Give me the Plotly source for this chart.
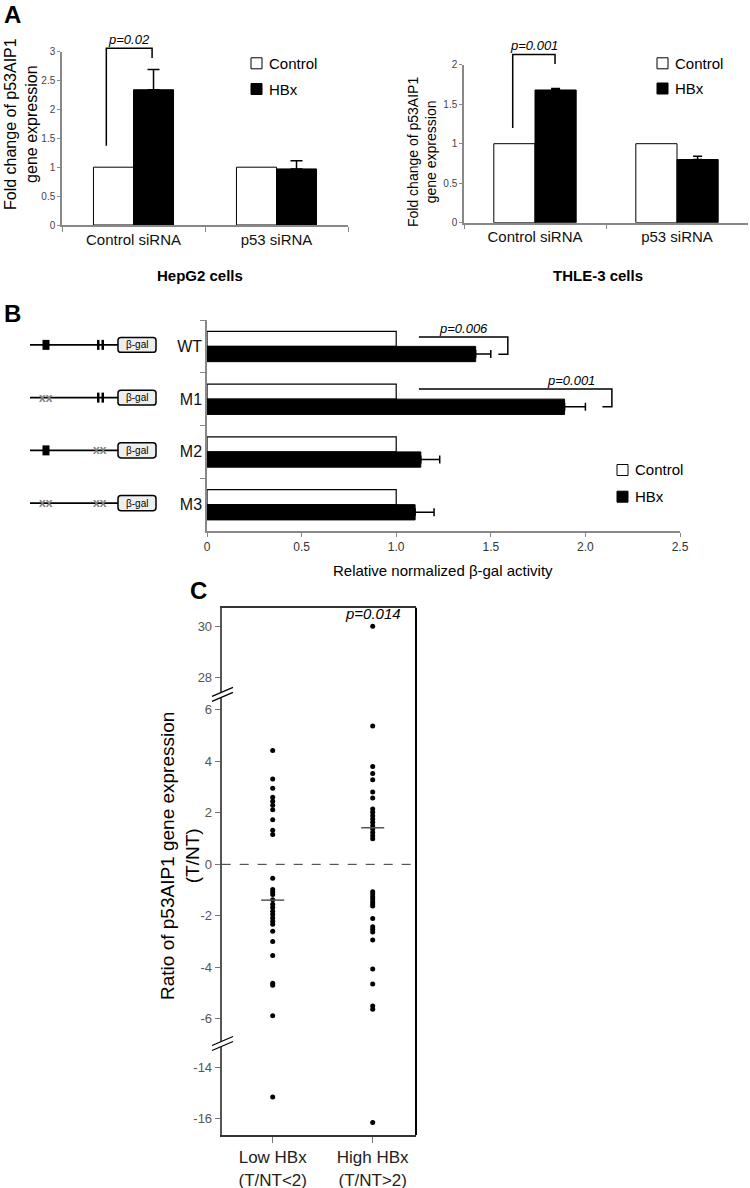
import plotly.graph_objects as go

# ---------------- data ----------------
a_categories = ["Control siRNA", "p53 siRNA"]
hepg2_control = [1.0, 1.0]
hepg2_hbx = [2.34, 0.97]
hepg2_hbx_err = [0.35, 0.14]
thle3_control = [1.0, 1.0]
thle3_hbx = [1.68, 0.80]
thle3_hbx_err = [0.02, 0.04]
hepg2_yticks = [0, 0.5, 1, 1.5, 2, 2.5, 3]
thle3_yticks = [0, 0.5, 1, 1.5, 2]

b_constructs = ["WT", "M1", "M2", "M3"]
b_control = [1.0, 1.0, 1.0, 1.0]
b_hbx = [1.42, 1.89, 1.13, 1.10]
b_hbx_err = [0.08, 0.11, 0.10, 0.10]
b_site1_intact = [True, False, True, False]
b_site2_intact = [True, True, False, False]
b_xticks = [0, 0.5, 1.0, 1.5, 2.0, 2.5]
b_xticklabels = ["0", "0.5", "1.0", "1.5", "2.0", "2.5"]

c_groups = ["Low HBx<br>(T/NT<2)", "High HBx<br>(T/NT>2)"]
c_low = [4.42, 3.31, 2.95, 2.60, 2.45, 2.29, 2.12, 1.73, 1.32, 1.16,
         -0.98, -1.07, -1.17, -1.38, -1.55, -1.68, -1.82, -1.95, -2.08, -2.21,
         -2.33, -2.60, -3.00, -3.54, -4.62, -4.70, -5.88, -6.66, -15.16]
c_high = [30.0, 5.37, 3.80, 3.53, 3.28, 2.81, 2.58, 2.15, 2.02, 1.89, 1.76,
          1.63, 1.50, 1.37, 1.24, 1.11, 0.99,
          -1.06, -1.15, -1.26, -1.35, -1.45, -1.54, -1.62, -2.10, -2.42, -2.52,
          -2.63, -2.94, -4.06, -4.65, -5.50, -5.63, -16.15]
c_low_mean = -1.39
c_high_mean = 1.42
c_yticks = [30, 28, 6, 4, 2, 0, -2, -4, -6, -14, -16]

# ---------------- geometry ----------------
W, H = 750, 1188
FONT = "Liberation Sans, Arial, sans-serif"


def fx(p):
    return p / W


def fy(p):
    return 1 - p / H


A1 = dict(x=(62, 348), y=(225, 51.6), r=(0, 3))
A2 = dict(x=(464, 748), y=(222.7, 64.7), r=(0, 2))
BB = dict(x=(207, 680), y=(531, 320), r=(0, 2.5), n=4)
CC = dict(x=(221.7, 416), y=(1135, 607.7), r=(-10.51, 9.965), xr=(-0.51, 1.433))


def ypx(ax, v):
    (p0, p1), (r0, r1) = ax["y"], ax["r"]
    return p0 + (v - r0) / (r1 - r0) * (p1 - p0)


def catx_px(ax, idx, n=2):
    x0, x1 = ax["x"]
    return x0 + (idx + 0.5) / n * (x1 - x0)


def bx_px(v):
    x0, x1 = BB["x"]
    return x0 + (v - BB["r"][0]) / (BB["r"][1] - BB["r"][0]) * (x1 - x0)


def by_px(idx):
    y0, y1 = BB["y"]  # y0 bottom, y1 top
    return y1 + (idx + 0.5) / BB["n"] * (y0 - y1)


# broken axis transform for panel C
def brk(v):
    if v > 6:
        return v - 28 + 7.24
    if v < -6:
        return v + 14 - 7.876
    return v


def cy_px(v):
    (p0, p1), (r0, r1) = CC["y"], CC["r"]
    return p0 + (brk(v) - r0) / (r1 - r0) * (p1 - p0)


def cx_px(v):
    (p0, p1), (r0, r1) = CC["x"], CC["xr"]
    return p0 + (v - r0) / (r1 - r0) * (p1 - p0)


fig = go.Figure()

# ---------------- Panel A ----------------
for (ctrl, hbx, err, xa, ya, capw, w) in [
    (hepg2_control, hepg2_hbx, hepg2_hbx_err, "x", "y", 6, 0.28),
    (thle3_control, thle3_hbx, thle3_hbx_err, "x2", "y2", 4.5, 0.29),
]:
    fig.add_trace(go.Bar(x=a_categories, y=ctrl, xaxis=xa, yaxis=ya, width=w, offset=-w,
                         marker=dict(color="white", line=dict(color="black", width=1)),
                         showlegend=False, name="Control"))
    fig.add_trace(go.Bar(x=a_categories, y=hbx, xaxis=xa, yaxis=ya, width=w, offset=0,
                         marker=dict(color="black", line=dict(color="black", width=1)),
                         error_y=dict(type="data", array=err, arrayminus=[0] * len(err),
                                      symmetric=False, color="black", thickness=1.5, width=capw),
                         showlegend=False, name="HBx"))

# ---------------- Panel B ----------------
fig.add_trace(go.Bar(y=b_constructs, x=b_control, orientation="h", xaxis="x3", yaxis="y3",
                     width=0.285, offset=-0.285,
                     marker=dict(color="white", line=dict(color="black", width=1.2)),
                     showlegend=False, name="Control"))
fig.add_trace(go.Bar(y=b_constructs, x=b_hbx, orientation="h", xaxis="x3", yaxis="y3",
                     width=0.29, offset=0,
                     marker=dict(color="black", line=dict(color="black", width=1)),
                     error_x=dict(type="data", array=b_hbx_err, arrayminus=[0] * 4,
                                  symmetric=False, color="black", thickness=1.5, width=4),
                     showlegend=False, name="HBx"))

# ---------------- Panel C ----------------
fig.add_trace(go.Scatter(x=[0] * len(c_low), y=[brk(v) for v in c_low], mode="markers",
                         xaxis="x4", yaxis="y4", marker=dict(size=5, color="black"),
                         showlegend=False, cliponaxis=False))
fig.add_trace(go.Scatter(x=[1] * len(c_high), y=[brk(v) for v in c_high], mode="markers",
                         xaxis="x4", yaxis="y4", marker=dict(size=5, color="black"),
                         showlegend=False, cliponaxis=False))
for i, m in enumerate([c_low_mean, c_high_mean]):
    fig.add_trace(go.Scatter(x=[i - 0.115, i + 0.115], y=[m, m], mode="lines",
                             xaxis="x4", yaxis="y4", line=dict(color="#555", width=1.5),
                             showlegend=False))

shapes = []
ann = []


def line_px(x0, y0, x1, y1, color="black", width=1.5, dash=None):
    d = dict(type="line", xref="paper", yref="paper", x0=fx(x0), y0=fy(y0), x1=fx(x1), y1=fy(y1),
             line=dict(color=color, width=width), layer="above")
    if dash:
        d["line"]["dash"] = dash
    shapes.append(d)


def path_px(points, close=False, fill=None, color="black", width=1.5):
    s = "M " + " L ".join(f"{fx(x):.5f},{fy(y):.5f}" for x, y in points)
    if close:
        s += " Z"
    d = dict(type="path", xref="paper", yref="paper", path=s, layer="above",
             line=dict(color=color, width=width))
    if fill:
        d["fillcolor"] = fill
    shapes.append(d)


def text_px(x, y, t, size=13, color="black", xanchor="center", yanchor="middle", angle=0, bold=False):
    if bold:
        t = "<b>" + t + "</b>"
    ann.append(dict(x=fx(x), y=fy(y), xref="paper", yref="paper", text=t, showarrow=False,
                    font=dict(size=size, color=color, family=FONT), xanchor=xanchor,
                    yanchor=yanchor, textangle=angle))


def legend_px(x, yc, yh, size=15):
    sq = 11
    shapes.append(dict(type="rect", xref="paper", yref="paper", x0=fx(x), x1=fx(x + sq),
                       y0=fy(yc + sq / 2), y1=fy(yc - sq / 2), fillcolor="white",
                       line=dict(color="black", width=1), layer="above"))
    shapes.append(dict(type="rect", xref="paper", yref="paper", x0=fx(x), x1=fx(x + sq),
                       y0=fy(yh + sq / 2), y1=fy(yh - sq / 2), fillcolor="black",
                       line=dict(color="black", width=1), layer="above"))
    text_px(x + sq + 5, yc, "Control", size=size, xanchor="left")
    text_px(x + sq + 5, yh, "HBx", size=size, xanchor="left")


# Panel A significance brackets
for ax, (li, ri), (ylow, ytop, yr), label in [
    (A1, (-0.19, 0.13), (1.37, 3.06, 2.89), "p=0.02"),
    (A2, (-0.157, 0.141), (1.20, 2.13, 2.01), "p=0.001"),
]:
    xl = catx_px(ax, li)
    xr = catx_px(ax, ri)
    path_px([(xl, ypx(ax, ylow)), (xl, ypx(ax, ytop)), (xr, ypx(ax, ytop)), (xr, ypx(ax, yr))])
    text_px((xl + xr) / 2, ypx(ax, ytop) + 1, "<i>" + label + "</i>", size=13, yanchor="bottom")

legend_px(251, 63.3, 89)
legend_px(657, 63.3, 88.5)

# panel A y titles and cell labels
text_px(21, 124, "Fold change of p53AIP1<br>gene expression", size=16, angle=-90)
text_px(422, 152, "Fold change of p53AIP1<br>gene expression", size=14, angle=-90)
text_px(200, 275, "HepG2 cells", size=15, bold=True)
text_px(598, 275, "THLE-3 cells", size=15, bold=True)
text_px(12, 14, "A", size=24, bold=True)

# ---------------- Panel B decorations ----------------
text_px(12, 314, "B", size=24, bold=True)
for i, (lo, hi, xlft, xend, xtxt, label) in enumerate([
    (-0.176, 0.15, 1.12, 1.59, 1.358, "p=0.006"),
    (-0.19, 0.144, 1.12, 2.14, 1.924, "p=0.001"),
]):
    yc = by_px(i)
    step = (BB["y"][0] - BB["y"][1]) / BB["n"]
    ytop = yc + lo * step
    ybot = yc + hi * step
    path_px([(bx_px(xlft), ytop), (bx_px(xend), ytop), (bx_px(xend), ybot), (bx_px(xend - 0.05), ybot)])
    text_px(bx_px(xtxt), ytop + 1, "<i>" + label + "</i>", size=13, yanchor="bottom")

legend_px(617, 470, 496.7)
text_px(443, 570, "Relative normalized β-gal activity", size=15)

# construct schematics
for i, (s1, s2) in enumerate(zip(b_site1_intact, b_site2_intact)):
    yc = by_px(i) - 1.5
    line_px(30, yc, 118, yc, width=1.8)
    if s1:
        shapes.append(dict(type="rect", xref="paper", yref="paper", x0=fx(42.5), x1=fx(49.5),
                           y0=fy(yc + 5), y1=fy(yc - 5), fillcolor="black",
                           line=dict(color="black", width=0), layer="above"))
    else:
        text_px(46, yc, "<b>xx</b>", size=12, color="#808080")
    if s2:
        for xb in (97, 101.5):
            shapes.append(dict(type="rect", xref="paper", yref="paper", x0=fx(xb), x1=fx(xb + 2.5),
                               y0=fy(yc + 5), y1=fy(yc - 5), fillcolor="black",
                               line=dict(color="black", width=0), layer="above"))
    else:
        text_px(100, yc, "<b>xx</b>", size=12, color="#808080")
    # rounded beta-gal box
    x0, x1, y0, y1, r = 118, 156, yc - 7.5, yc + 7.5, 3
    pts = (f"M {fx(x0 + r):.5f},{fy(y0):.5f} L {fx(x1 - r):.5f},{fy(y0):.5f} "
           f"Q {fx(x1):.5f},{fy(y0):.5f} {fx(x1):.5f},{fy(y0 + r):.5f} "
           f"L {fx(x1):.5f},{fy(y1 - r):.5f} Q {fx(x1):.5f},{fy(y1):.5f} {fx(x1 - r):.5f},{fy(y1):.5f} "
           f"L {fx(x0 + r):.5f},{fy(y1):.5f} Q {fx(x0):.5f},{fy(y1):.5f} {fx(x0):.5f},{fy(y1 - r):.5f} "
           f"L {fx(x0):.5f},{fy(y0 + r):.5f} Q {fx(x0):.5f},{fy(y0):.5f} {fx(x0 + r):.5f},{fy(y0):.5f} Z")
    shapes.append(dict(type="path", xref="paper", yref="paper", path=pts, fillcolor="#eeeeee",
                       line=dict(color="black", width=1.5), layer="above"))
    text_px(137, yc, "β-gal", size=10)

# ---------------- Panel C decorations ----------------
text_px(199, 590, "C", size=24, bold=True)
line_px(CC["x"][0], cy_px(0), CC["x"][1], cy_px(0), color="#333", width=1, dash="dash")
line_px(CC["x"][1], CC["y"][1], CC["x"][1], CC["y"][0], color="black", width=2)
for a, b in [(6, 28), (-6, -14)]:
    c = (cy_px(a) + cy_px(b)) / 2
    path_px([(212, c + 2.5), (233, c - 6.5), (233, c - 1.5), (212, c + 7.5)], close=True,
            fill="white", color="white", width=0.5)
    line_px(212, c + 2.5, 233, c - 6.5, width=1.3)
    line_px(212, c + 7.5, 233, c - 1.5, width=1.3)
text_px(cx_px(1), cy_px(30) - 2, "<i>p=0.014</i>", size=15, yanchor="bottom")
text_px(180, 856, "Ratio of p53AIP1 gene expression<br>(T/NT)", size=19, angle=-90)

axis_common = dict(showgrid=False, zeroline=False, showline=True, ticks="outside")

fig.update_layout(
    width=W, height=H, margin=dict(l=0, r=0, t=0, b=0),
    paper_bgcolor="white", plot_bgcolor="white", template="none",
    font=dict(family=FONT, color="black"),
    barmode="overlay", showlegend=False,
    xaxis=dict(domain=[fx(A1["x"][0]), fx(A1["x"][1])], anchor="y", type="category",
               categoryorder="array", categoryarray=a_categories, range=[-0.5, 1.5],
               tickson="boundaries", ticklen=5, tickcolor="#888", linecolor="#888", linewidth=1.5,
               tickfont=dict(size=15, color="#111"), **axis_common),
    yaxis=dict(domain=[fy(A1["y"][0]), fy(A1["y"][1])], anchor="x", range=list(A1["r"]),
               tickvals=hepg2_yticks, ticktext=[f"{v:g}" for v in hepg2_yticks], ticklen=3,
               tickcolor="#888", linecolor="#888", linewidth=1.5,
               tickfont=dict(size=10, color="#444"), **axis_common),
    xaxis2=dict(domain=[fx(A2["x"][0]), fx(A2["x"][1])], anchor="y2", type="category",
                categoryorder="array", categoryarray=a_categories, range=[-0.5, 1.5],
                tickson="boundaries", ticklen=5, tickcolor="#888", linecolor="#888", linewidth=1.5,
                tickfont=dict(size=15, color="#111"), **axis_common),
    yaxis2=dict(domain=[fy(A2["y"][0]), fy(A2["y"][1])], anchor="x2", range=list(A2["r"]),
                tickvals=thle3_yticks, ticktext=[f"{v:g}" for v in thle3_yticks], ticklen=3,
                tickcolor="#888", linecolor="#888", linewidth=1.5,
                tickfont=dict(size=10, color="#444"), **axis_common),
    xaxis3=dict(domain=[fx(BB["x"][0]), fx(BB["x"][1])], anchor="y3", range=list(BB["r"]),
                tickvals=b_xticks, ticktext=b_xticklabels, ticklen=4, tickcolor="#888",
                linecolor="#888", linewidth=1.5, tickfont=dict(size=12, color="#333"), **axis_common),
    yaxis3=dict(domain=[fy(BB["y"][0]), fy(BB["y"][1])], anchor="x3", type="category",
                categoryorder="array", categoryarray=b_constructs, range=[3.5, -0.5],
                tickson="boundaries", ticklen=5, tickcolor="#888", linecolor="#888", linewidth=1.5,
                tickfont=dict(size=16, color="#111"), **axis_common),
    xaxis4=dict(domain=[fx(CC["x"][0]), fx(CC["x"][1])], anchor="y4", range=list(CC["xr"]),
                tickvals=[0, 1], ticktext=c_groups, ticklen=6, tickcolor="#777",
                linecolor="#333", linewidth=2, mirror=True,
                tickfont=dict(size=17, color="#222"), **axis_common),
    yaxis4=dict(domain=[fy(CC["y"][0]), fy(CC["y"][1])], anchor="x4", range=list(CC["r"]),
                tickvals=[brk(v) for v in c_yticks], ticktext=[str(v) for v in c_yticks],
                ticklen=5, tickcolor="#777", linecolor="#555", linewidth=2,
                tickfont=dict(size=13, color="#555"), **axis_common),
    shapes=shapes, annotations=ann,
)

fig.write_html("out.html", config={"displayModeBar": False},
               post_script="document.body.style.margin='0px';document.body.style.overflow='hidden';")
